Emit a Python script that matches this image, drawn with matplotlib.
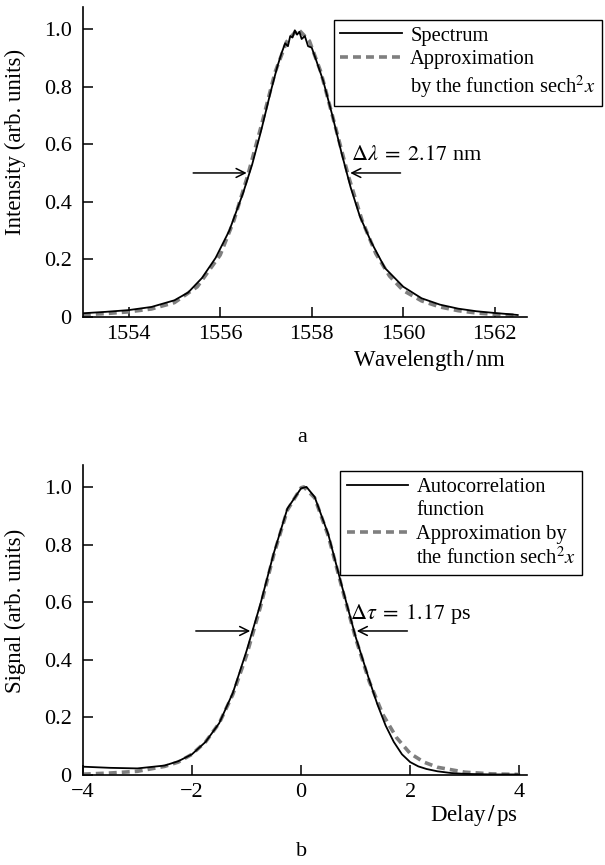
import matplotlib
matplotlib.use("Agg")
import matplotlib.pyplot as plt
from matplotlib.lines import Line2D

# Panel a: spectrum and its sech^2 fit
wavelength = [1553.0, 1553.5, 1554.0, 1554.5, 1555.0, 1555.3, 1555.6, 1555.9, 1556.2, 1556.5,
              1556.7, 1556.9, 1557.1, 1557.25, 1557.35, 1557.42, 1557.48, 1557.53, 1557.58, 1557.63,
              1557.68, 1557.73, 1557.78, 1557.85, 1557.92, 1558.0, 1558.1, 1558.25, 1558.45, 1558.65,
              1558.85, 1559.05, 1559.3, 1559.6, 1560.0, 1560.4, 1560.8, 1561.2, 1561.6, 1562.0,
              1562.3, 1562.5]
spectrum = [0.013, 0.018, 0.024, 0.035, 0.058, 0.085, 0.135, 0.205, 0.30, 0.43,
            0.53, 0.65, 0.78, 0.87, 0.92, 0.95, 0.94, 0.975, 0.97, 0.995,
            0.98, 0.99, 0.965, 0.975, 0.94, 0.935, 0.89, 0.82, 0.70, 0.57,
            0.45, 0.35, 0.26, 0.17, 0.105, 0.065, 0.043, 0.029, 0.020, 0.014,
            0.010, 0.007]
fit_wavelength = [1553.0, 1553.5, 1554.0, 1554.5, 1555.0, 1555.5, 1556.0, 1556.3, 1556.6, 1556.9,
                  1557.2, 1557.45, 1557.7, 1557.95, 1558.2, 1558.5, 1558.8, 1559.1, 1559.4, 1559.7,
                  1560.0, 1560.4, 1560.8, 1561.2, 1561.6, 1562.0, 1562.5]
fit_spectrum = [0.008, 0.012, 0.018, 0.028, 0.050, 0.105, 0.215, 0.335, 0.49, 0.665,
                0.85, 0.955, 1.0, 0.958, 0.85, 0.67, 0.49, 0.335, 0.22, 0.142,
                0.092, 0.056, 0.035, 0.022, 0.014, 0.009, 0.006]

# Panel b: autocorrelation and its sech^2 fit
delay = [-4.0, -3.5, -3.0, -2.5, -2.25, -2.0, -1.75, -1.5, -1.25, -1.0,
         -0.75, -0.5, -0.25, 0.0, 0.1, 0.25, 0.5, 0.75, 1.0, 1.25,
         1.4, 1.55, 1.7, 1.85, 2.0, 2.15, 2.3, 2.5, 2.75, 3.0, 3.5, 4.0]
autocorr = [0.029, 0.025, 0.023, 0.033, 0.048, 0.072, 0.115, 0.18, 0.285, 0.43,
            0.59, 0.77, 0.925, 0.995, 1.0, 0.965, 0.835, 0.655, 0.48, 0.33,
            0.245, 0.172, 0.115, 0.072, 0.045, 0.030, 0.021, 0.013, 0.007, 0.004, 0.002, 0.002]
fit_delay = [-4.0, -3.5, -3.0, -2.5, -2.25, -2.0, -1.75, -1.5, -1.25, -1.0,
             -0.75, -0.5, -0.25, 0.0, 0.05, 0.25, 0.5, 0.75, 1.0, 1.25,
             1.5, 1.75, 2.0, 2.25, 2.5, 3.0, 3.5, 4.0]
fit_autocorr = [0.003, 0.007, 0.013, 0.030, 0.045, 0.072, 0.115, 0.18, 0.28, 0.415,
                0.58, 0.765, 0.92, 0.997, 1.0, 0.962, 0.83, 0.65, 0.475, 0.325,
                0.21, 0.13, 0.075, 0.045, 0.027, 0.010, 0.004, 0.002]

y_ticks = [0, 0.2, 0.4, 0.6, 0.8, 1.0]
y_tick_labels = ["0", "0.2", "0.4", "0.6", "0.8", "1.0"]

plt.rcParams["font.family"] = ["Liberation Serif", "DejaVu Serif"]
plt.rcParams["mathtext.fontset"] = "stix"
plt.rcParams["font.size"] = 16

FIT_COLOR = "#7f7f7f"
LABEL_SIZE = 16.5
LEGEND_SIZE = 14.8


def style_axes(ax):
    # Only left/bottom spines, ticks pointing inward
    ax.spines["top"].set_visible(False)
    ax.spines["right"].set_visible(False)
    ax.spines["left"].set_linewidth(1.2)
    ax.spines["bottom"].set_linewidth(1.2)
    ax.tick_params(direction="in", length=7, width=1.1)
    ax.tick_params(axis="y", pad=8)
    ax.tick_params(axis="x", pad=6)
    ax.set_ylim(0, 1.076)
    ax.set_yticks(y_ticks)
    ax.set_yticklabels(y_tick_labels)


def add_legend(ax, labels, anchor):
    handles = []
    for kind in labels:
        if kind[1] == "solid":
            handles.append(Line2D([], [], color="black", lw=1.3))
        elif kind[1] == "dash":
            handles.append(Line2D([], [], color=FIT_COLOR, lw=2.6, ls=(0, (2.2, 1.4))))
        else:
            handles.append(Line2D([], [], ls="none"))
    leg = ax.legend(handles, [k[0] for k in labels], loc="upper left", bbox_to_anchor=anchor,
                    frameon=True, fancybox=False, edgecolor="black", framealpha=1,
                    fontsize=LEGEND_SIZE, handlelength=3.0, handletextpad=0.4,
                    labelspacing=0.2, borderpad=0.3, borderaxespad=0)
    leg.get_frame().set_linewidth(1.0)


fig = plt.figure(figsize=(6.05, 8.65), dpi=100)

# ---- panel a ----
ax1 = fig.add_axes([0.1369, 0.6335, 0.734, 0.3584])
ax1.plot(wavelength, spectrum, color="black", lw=1.3, zorder=3)
ax1.plot(fit_wavelength, fit_spectrum, color=FIT_COLOR, lw=2.6, ls=(0, (2.2, 1.4)), zorder=2)
style_axes(ax1)
ax1.set_xlim(1553.0, 1562.7)
ax1.set_xticks([1554, 1556, 1558, 1560, 1562])
ax1.set_xlabel(r"Wavelength$\,/\,$nm", fontsize=LABEL_SIZE)
ax1.xaxis.set_label_coords(0.78, -0.1)
ax1.set_ylabel("Intensity (arb. units)", fontsize=LABEL_SIZE)
ax1.yaxis.set_label_coords(-0.128, 0.565)
ax1.annotate("", xy=(1556.64, 0.5), xytext=(1555.35, 0.5),
             arrowprops=dict(arrowstyle="->", color="black", lw=1.1, mutation_scale=16))
ax1.annotate("", xy=(1558.78, 0.5), xytext=(1560.0, 0.5),
             arrowprops=dict(arrowstyle="->", color="black", lw=1.1, mutation_scale=16))
ax1.text(1558.85, 0.56, r"$\Delta\lambda\;=\;2.17$ nm", ha="left", va="center")
add_legend(ax1, [("Spectrum", "solid"), ("Approximation", "dash"),
                 (r"by the function sech$^2 x$", "none")], (0.566, 0.958))

# ---- panel b ----
ax2 = fig.add_axes([0.1369, 0.104, 0.734, 0.3584])
ax2.plot(delay, autocorr, color="black", lw=1.3, zorder=3)
ax2.plot(fit_delay, fit_autocorr, color=FIT_COLOR, lw=2.6, ls=(0, (2.2, 1.4)), zorder=2)
style_axes(ax2)
ax2.set_xlim(-4.0, 4.14)
ax2.set_xticks([-4, -2, 0, 2, 4])
ax2.set_xticklabels(["\u22124", "\u22122", "0", "2", "4"])
ax2.set_xlabel(r"Delay$\,/\,$ps", fontsize=LABEL_SIZE)
ax2.xaxis.set_label_coords(0.88, -0.09)
ax2.set_ylabel("Signal (arb. units)", fontsize=LABEL_SIZE)
ax2.yaxis.set_label_coords(-0.128, 0.53)
ax2.annotate("", xy=(-0.88, 0.5), xytext=(-1.98, 0.5),
             arrowprops=dict(arrowstyle="->", color="black", lw=1.1, mutation_scale=16))
ax2.annotate("", xy=(0.97, 0.5), xytext=(2.0, 0.5),
             arrowprops=dict(arrowstyle="->", color="black", lw=1.1, mutation_scale=16))
ax2.text(0.9, 0.56, r"$\Delta\tau\;=\;1.17$ ps", ha="left", va="center")
add_legend(ax2, [("Autocorrelation", "solid"), ("function", "none"),
                 ("Approximation by", "dash"), (r"the function sech$^2 x$", "none")],
           (0.58, 0.98))

fig.text(302 / 605, 1 - 437 / 865, "a", ha="center", va="center")
fig.text(302 / 605, 1 - 851 / 865, "b", ha="center", va="center")

fig.savefig("out.png", dpi=100)
